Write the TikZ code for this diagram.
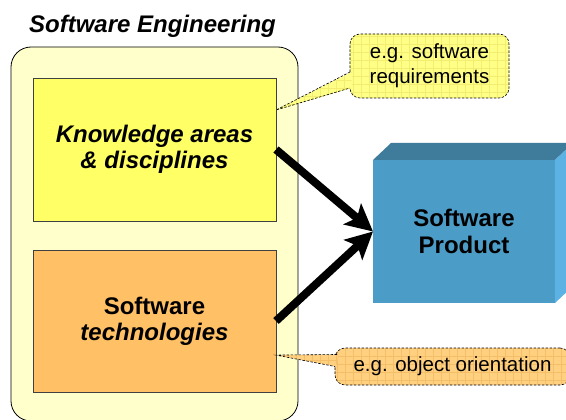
\documentclass[tikz,border=0pt]{standalone}
\usepackage{fontspec}
\setmainfont{Liberation Sans}
\usetikzlibrary{arrows.meta,calc}

\definecolor{seback}{HTML}{FFFFCC}
\definecolor{kayellow}{HTML}{FFFF66}
\definecolor{techorange}{HTML}{FFC066}
\definecolor{prodfront}{HTML}{4C9CC8}
\definecolor{prodtop}{HTML}{3F7B9B}
\definecolor{prodside}{HTML}{5BB2E3}
\definecolor{noteyellow}{HTML}{FFFF88}
\definecolor{notegridy}{HTML}{F3EE72}
\definecolor{noteorange}{HTML}{FFD080}
\definecolor{notegrido}{HTML}{F5BF6A}

\tikzset{
  areabox/.style={draw=black!75,line width=0.6pt,minimum width=243pt,minimum height=143pt,
    outer sep=0pt,align=center,font=\fontsize{24}{26}\selectfont\bfseries},
  note/.style={draw,line width=0.6pt,dash pattern=on 2.5pt off 1.5pt,rounded corners=10pt,
    outer sep=0pt,align=center,font=\fontsize{20.5}{27}\selectfont},
  notegrid/.style={path picture={\draw[#1,solid,line width=0.4pt,step=8pt]
    (path picture bounding box.south west) grid (path picture bounding box.north east);}},
  notedash/.style={line width=0.6pt,dash pattern=on 2.5pt off 1.5pt},
  bigarrow/.style={line width=8pt,-{Stealth[length=27pt,width=27pt,inset=6pt]}}
}

\begin{document}
\begin{tikzpicture}[x=1pt,y=-1pt]
\useasboundingbox (0,0) rectangle (566,420);

% software engineering frame
\node[font=\fontsize{24}{28}\selectfont\bfseries\itshape,anchor=base] (setitle) at (152.5,33) {Software Engineering};
\node[draw,line width=0.8pt,fill=seback,rounded corners=20pt,minimum width=287pt,minimum height=374pt,outer sep=0pt] (sebox) at (154.5,234) {};

\node[areabox,fill=kayellow] (know) at (154.5,149.5) {\itshape Knowledge areas\\\itshape \& disciplines};
\node[areabox,fill=techorange,minimum height=142pt] (tech) at (154.5,321) {Software\\\itshape technologies};

% product block
\node[fill=prodfront,minimum width=182pt,minimum height=143pt,outer sep=0pt,align=center,
  font=\fontsize{24}{27}\selectfont\bfseries] (prod) at (464,231.5) {Software\\Product};
\fill[prodtop] (prod.north west) -- ++(18,-17) -- ++(182,0) -- (prod.north east) -- cycle;
\fill[prodside] (prod.north east) -- ++(18,-17) -- ++(0,143) -- (prod.south east) -- cycle;

\draw[bigarrow] (know.east) -- (prod.west);
\draw[bigarrow] (tech.east) -- (prod.west);

% callouts
\coordinate (reqtip) at ($(know.north east)!0.224!(know.south east)$);
\coordinate (ootip) at ($(tech.north east)!0.74!(tech.south east)$);

\node[note,fill=noteyellow,notegrid=notegridy,minimum width=159pt,minimum height=64pt] (req) at (429.5,66) {\raisebox{-2pt}{e.g. software}\\requirements};
\path[fill=noteyellow,notegrid=notegridy] (reqtip) -- ($(req.west)+(1.5,6)$) -- ($(req.west)+(1.5,22)$) -- cycle;
\draw[notedash] ($(req.west)+(0,6)$) -- (reqtip) -- ($(req.west)+(0,22)$);

\node[note,fill=noteorange,notegrid=notegrido,minimum width=235pt,minimum height=37pt] (oo) at (452.5,366.5) {e.g. object orientation};
\path[fill=noteorange,notegrid=notegrido] (ootip) -- ($(oo.west)+(3,-12)$) -- ($(oo.west)+(1.5,0)$) -- cycle;
\draw[notedash] ($(oo.west)+(2,-12)$) -- (ootip) -- ($(oo.west)+(0,0)$);

\end{tikzpicture}
\end{document}
